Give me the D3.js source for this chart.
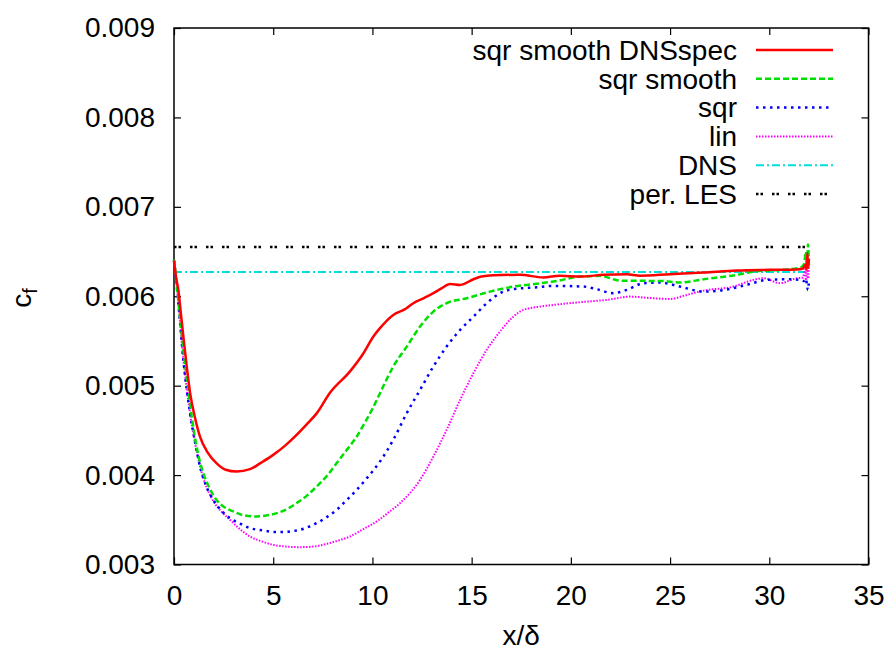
<!DOCTYPE html>
<html>
<head>
<meta charset="utf-8">
<script src="https://cdn.jsdelivr.net/npm/d3@7"></script>
<style>
  body { margin: 0; background: #fff; }
  text { font-family: "Liberation Sans", Arial, Helvetica, sans-serif; fill: #000; }
</style>
</head>
<body>
<div id="chart"></div>
<script>
// tick values
const xTicks = [0, 5, 10, 15, 20, 25, 30, 35];
const yTicks = [0.003, 0.004, 0.005, 0.006, 0.007, 0.008, 0.009];

// series, [x/delta, cf]
const sqrSmoothDNSspec = [[0,0.00640],[0.1,0.00622],[0.22,0.00607],[0.35,0.0058],[0.47,0.00555],[0.65,0.00520],[0.81,0.00492],[1.05,0.00465],[1.31,0.00443],[1.7,0.00425],[2.15,0.00413],[2.6,0.00406],[3.16,0.00404],[3.83,0.004066],[4.4,0.00414],[5.0,0.004226],[5.6,0.00433],[6.18,0.00445],[6.7,0.00457],[7.19,0.00469],[7.86,0.00492],[8.87,0.00516],[9.54,0.00536],[10.05,0.00555],[10.38,0.005643],[11.05,0.005791],[11.6,0.00585],[12.06,0.005922],[12.6,0.00598],[13.07,0.006034],[13.5,0.00609],[13.91,0.006138],[14.42,0.006127],[15.09,0.00619],[15.5,0.00622],[16.1,0.006235],[17.44,0.00624],[18.61,0.00621],[19.45,0.00623],[20.5,0.00622],[21.64,0.00624],[22.82,0.006247],[23.49,0.00623],[25.0,0.006247],[26.68,0.006265],[28.36,0.006287],[30.04,0.006295],[31.39,0.0063],[31.7,0.00631],[31.8,0.00635],[31.88,0.00630],[31.92,0.00648],[31.96,0.00632],[32,0.00642]];
const sqrSmooth = [[0,0.00641],[0.15,0.0061],[0.3,0.00577],[0.47,0.00540],[0.64,0.00510],[0.97,0.00454],[1.2,0.00425],[1.48,0.00402],[1.8,0.00385],[2.15,0.00372],[2.55,0.00364],[2.99,0.003593],[3.5,0.00355],[4.17,0.003537],[4.7,0.00355],[5.18,0.003574],[5.7,0.00362],[6.18,0.003686],[6.7,0.00377],[7.19,0.003872],[7.7,0.00399],[8.2,0.004134],[8.7,0.00428],[9.21,0.004431],[9.6,0.00458],[10.0,0.00474],[10.38,0.004916],[11.05,0.005214],[11.73,0.005437],[12.4,0.005661],[13.07,0.005828],[13.74,0.005922],[14.75,0.005978],[15.93,0.006052],[17.1,0.006108],[18.28,0.00614],[19.12,0.006164],[20.46,0.00622],[21.47,0.006228],[22.48,0.006175],[23.83,0.006172],[24.6,0.00617],[25.5,0.006153],[26.68,0.00619],[28.36,0.006239],[29.2,0.006276],[30.88,0.0063],[31.56,0.00632],[31.75,0.00636],[31.85,0.0065],[31.9,0.00632],[31.95,0.00658],[32,0.00634]];
const sqr = [[0,0.00640],[0.1,0.0062],[0.22,0.005922],[0.47,0.005289],[0.81,0.004693],[1.05,0.00438],[1.31,0.004096],[1.6,0.00389],[1.98,0.003723],[2.4,0.0036],[2.82,0.003519],[3.3,0.00346],[3.83,0.003407],[4.5,0.00338],[5.18,0.003362],[6.18,0.00338],[7.19,0.003463],[7.7,0.00353],[8.2,0.003612],[8.7,0.00372],[9.21,0.003835],[9.7,0.00396],[10.38,0.004151],[11.05,0.004394],[11.73,0.004693],[12.4,0.004953],[13.07,0.005214],[13.74,0.005437],[14.42,0.005624],[15.09,0.005772],[15.76,0.005922],[16.43,0.006034],[17.1,0.006079],[18.3,0.0061],[19.12,0.006116],[20.63,0.006108],[21.3,0.006079],[22.14,0.006034],[22.82,0.006071],[23.66,0.006146],[24.5,0.006153],[25.5,0.006108],[26.68,0.006052],[27.52,0.006063],[28.86,0.006127],[29.87,0.006183],[30.88,0.00619],[31.56,0.006183],[31.75,0.00617],[31.85,0.0062],[31.9,0.00612],[31.95,0.00607],[32,0.00618]];
const lin = [[0,0.00640],[0.1,0.0062],[0.22,0.00592],[0.47,0.00529],[0.81,0.00469],[1.31,0.0041],[1.98,0.00371],[2.4,0.00359],[2.82,0.0035],[3.3,0.0034],[3.83,0.003313],[4.4,0.00326],[5.0,0.00322],[5.7,0.0032],[6.35,0.003194],[7.0,0.0032],[7.7,0.003231],[8.3,0.00327],[8.87,0.003313],[9.5,0.00339],[10.3,0.003495],[10.8,0.00358],[11.39,0.003686],[12.4,0.003947],[13.07,0.004207],[13.74,0.004506],[14.42,0.004841],[15.09,0.00514],[15.76,0.005401],[16.43,0.005605],[17.1,0.005772],[17.6,0.005847],[18.45,0.005884],[19.12,0.005903],[20.8,0.00594],[21.8,0.005959],[22.98,0.005996],[24.0,0.00598],[25.0,0.00597],[25.84,0.006015],[26.68,0.006063],[28.19,0.006108],[29.2,0.006183],[29.7,0.006202],[30.54,0.006146],[31.39,0.006202],[31.7,0.00621],[31.8,0.0063],[31.85,0.00618],[31.9,0.00644],[31.95,0.0062],[32,0.00635]];
const dns = [[0,0.00627],[32,0.00627]];
const perLES = [[0,0.00655],[32,0.00655]];

const names = ["sqr smooth DNSspec", "sqr smooth", "sqr", "lin", "DNS", "per. LES"];
const colors = ["#ff0000", "#00e000", "#0000ff", "#ff00ff", "#00dddd", "#000000"];
const dashes = [null, "6,3", "2.5,4.5", "1.5,1.5", "8,3,2,3", "2.5,2,2.5,9"];
const widths = [2.5, 2.5, 2.5, 2, 2, 2.5];
const allSeries = [sqrSmoothDNSspec, sqrSmooth, sqr, lin, dns, perLES];

const W = 893, H = 650;
const margin = {left: 174, top: 28, right: 24.5, bottom: 85.5};
const w = W - margin.left - margin.right, h = H - margin.top - margin.bottom;

const svg = d3.select('#chart').append('svg')
    .attr('width', W).attr('height', H);
const g = svg.append('g')
    .attr('transform', 'translate(' + margin.left + ',' + margin.top + ')');

const xScale = d3.scaleLinear().domain([0, 35]).range([0, w]);
const yScale = d3.scaleLinear().domain([0.003, 0.009]).range([h, 0]);

// axes, ticks pointing inward, mirrored on top/right
const fmt = d3.format('.3f');
g.append('g').attr('class', 'x axis')
    .attr('transform', 'translate(0,' + h + ')')
    .call(d3.axisBottom(xScale).tickValues(xTicks).tickSizeInner(-7).tickSizeOuter(0).tickPadding(21));
g.append('g').attr('class', 'x2 axis')
    .call(d3.axisTop(xScale).tickValues(xTicks).tickSizeInner(-7).tickSizeOuter(0).tickFormat(''));
g.append('g').attr('class', 'y axis')
    .call(d3.axisLeft(yScale).tickValues(yTicks).tickFormat(fmt).tickSizeInner(-7).tickSizeOuter(0).tickPadding(19));
g.append('g').attr('class', 'y2 axis')
    .attr('transform', 'translate(' + w + ',0)')
    .call(d3.axisRight(yScale).tickValues(yTicks).tickSizeInner(-7).tickSizeOuter(0).tickFormat(''));

g.selectAll('.axis path').remove();
g.selectAll('.axis line').attr('stroke', '#000').attr('stroke-width', 1.2);
g.selectAll('.axis text').style('font-size', '28px').attr('fill', '#000');
g.selectAll('.x.axis text').attr('dy', '0.71em');

g.append('rect')
    .attr('width', w).attr('height', h)
    .attr('fill', 'none').attr('stroke', '#000').attr('stroke-width', 1.5);

// lines
const line = d3.line()
    .x(d => xScale(d[0]))
    .y(d => yScale(d[1]))
    .curve(d3.curveMonotoneX);

// draw back to front: reference lines first
const order = [5, 4, 3, 2, 1, 0];
order.forEach(i => {
    g.append('path')
        .datum(allSeries[i])
        .attr('class', 'line')
        .attr('fill', 'none')
        .attr('stroke', colors[i])
        .attr('stroke-width', widths[i])
        .attr('stroke-dasharray', dashes[i])
        .attr('d', line);
});

// legend
const legend = svg.append('g').attr('class', 'legend');
const rowY = d3.scaleLinear().domain([0, 5]).range([50, 194]);
names.forEach((name, i) => {
    legend.append('text')
        .attr('x', 737).attr('y', rowY(i))
        .attr('text-anchor', 'end').attr('dy', '0.35em')
        .style('font-size', '28px')
        .text(name);
    legend.append('line')
        .attr('x1', 756).attr('x2', 833)
        .attr('y1', rowY(i)).attr('y2', rowY(i))
        .attr('stroke', colors[i])
        .attr('stroke-width', widths[i])
        .attr('stroke-dasharray', dashes[i]);
});

// axis titles
svg.append('text')
    .attr('x', margin.left + w / 2).attr('y', 645)
    .attr('text-anchor', 'middle')
    .style('font-size', '28px')
    .text('x/δ');

const yt = svg.append('text')
    .attr('transform', 'translate(31,298) rotate(-90)')
    .attr('text-anchor', 'middle')
    .style('font-size', '28px');
yt.append('tspan').text('c');
yt.append('tspan').attr('dy', 6).style('font-size', '20px').text('f');
</script>
</body>
</html>
